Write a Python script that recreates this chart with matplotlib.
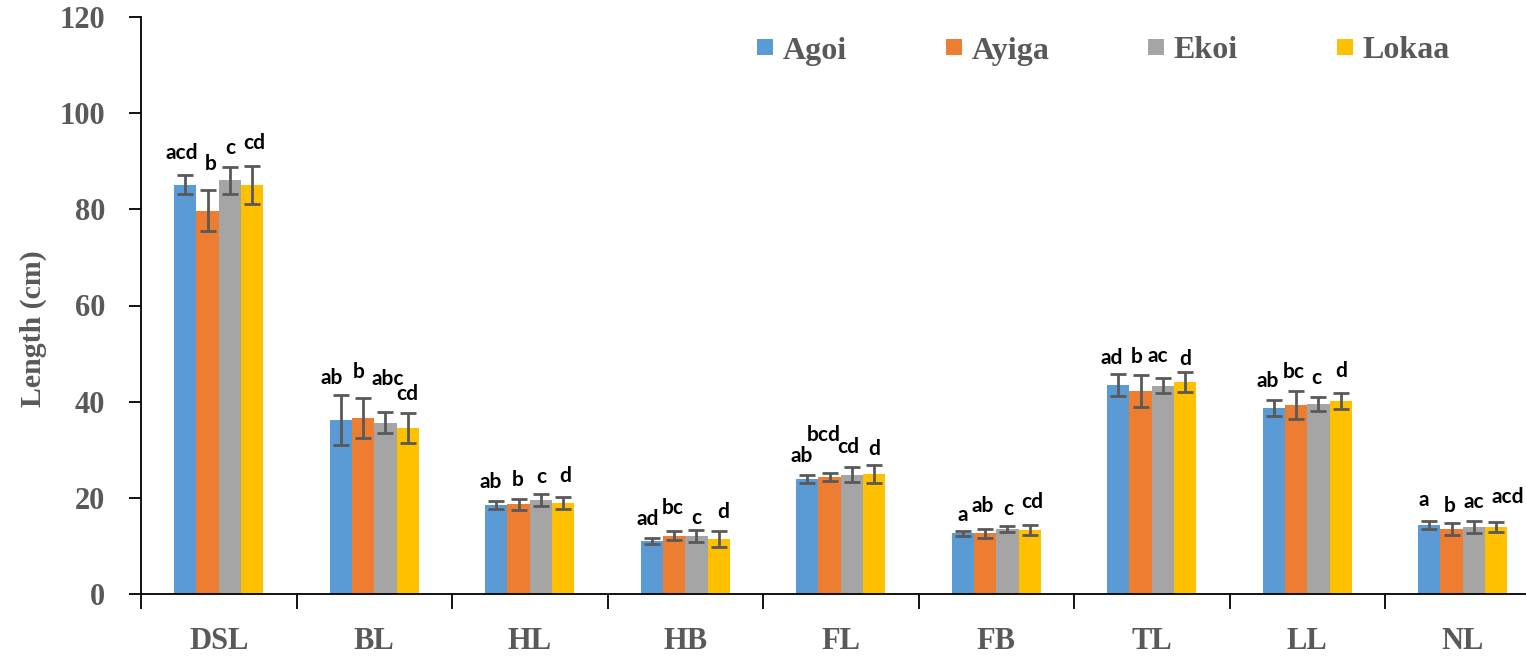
import matplotlib
matplotlib.use("Agg")
import matplotlib.pyplot as plt
import matplotlib.transforms as mtransforms
from matplotlib.patches import Patch
import numpy as np

# ---- data ----
traits = ["DSL", "BL", "HL", "HB", "FL", "FB", "TL", "LL", "NL"]
breeds = ["Agoi", "Ayiga", "Ekoi", "Lokaa"]

agoi_mean  = [85.1, 36.2, 18.5, 11.0, 23.9, 12.6, 43.5, 38.7, 14.3]
ayiga_mean = [79.7, 36.6, 18.7, 12.1, 24.3, 12.6, 42.2, 39.3, 13.5]
ekoi_mean  = [86.0, 35.6, 19.5, 12.1, 24.8, 13.5, 43.3, 39.5, 13.9]
lokaa_mean = [85.1, 34.5, 18.9, 11.4, 25.0, 13.3, 44.1, 40.1, 13.9]

agoi_sd  = [2.0, 5.2, 0.75, 0.6, 0.9, 0.6, 2.25, 1.7, 0.85]
ayiga_sd = [4.3, 4.1, 1.15, 0.9, 0.9, 0.85, 3.3, 2.9, 1.2]
ekoi_sd  = [2.9, 2.2, 1.2, 1.2, 1.6, 0.7, 1.6, 1.45, 1.3]
lokaa_sd = [4.0, 3.2, 1.3, 1.6, 1.9, 1.0, 2.0, 1.65, 1.05]

agoi_sig  = ["acd", "ab", "ab", "ad", "ab", "a", "ad", "ab", "a"]
ayiga_sig = ["b", "b", "b", "bc", "bcd", "ab", "b", "bc", "b"]
ekoi_sig  = ["c", "abc", "c", "c", "cd", "c", "ac", "c", "ac"]
lokaa_sig = ["cd", "cd", "d", "d", "d", "cd", "d", "d", "acd"]

means = [agoi_mean, ayiga_mean, ekoi_mean, lokaa_mean]
sds = [agoi_sd, ayiga_sd, ekoi_sd, lokaa_sd]
sigs = [agoi_sig, ayiga_sig, ekoi_sig, lokaa_sig]

# ---- layout of the significance letters (height in cm, nudge in px) ----
label_y = [
    [91.7, 44.9, 23.2, 15.5, 28.6, 16.4, 49.0, 44.4, 19.6],
    [89.4, 46.2, 23.7, 17.8, 33.1, 18.2, 49.2, 46.2, 18.4],
    [92.8, 44.7, 24.4, 15.9, 30.6, 17.6, 49.5, 44.9, 19.2],
    [93.8, 41.5, 24.5, 17.1, 30.1, 19.2, 48.8, 46.4, 20.2],
]
label_dx = [
    [-4, -9, -6, -4, -6, 0, -7, -6, -6],
    [3, -4, -1, -1, -6, -2, -4, -2, -2],
    [0, 2, 0, 0, -4, 1, -5, -2, 0],
    [2, 0, 2, 4, 0, 3, 0, 0, 12],
]

colors = ["#5B9BD5", "#ED7D31", "#A5A5A5", "#FFC000"]
gray_text = "#595959"
serif = ["Liberation Serif", "DejaVu Serif"]

W, H = 1526, 657
fig = plt.figure(figsize=(W / 100, H / 100), dpi=100)
ax = fig.add_axes([141 / W, 63 / H, 1399.5 / W, 577 / H])

n = len(traits)
centers = np.arange(n) + 0.5
bw = 0.1435

for j in range(4):
    xs = centers + (j - 1.5) * bw
    ax.bar(xs, means[j], width=bw, color=colors[j], linewidth=0, zorder=2)
    ax.errorbar(xs, means[j], yerr=sds[j], fmt="none", ecolor="#595959",
                elinewidth=2.0, capsize=5.5, capthick=2.0, zorder=3)
    for i in range(n):
        off = mtransforms.offset_copy(ax.transData, fig=fig,
                                      x=label_dx[j][i] * 0.72, y=0, units="points")
        ax.text(xs[i], label_y[j][i], sigs[j][i], transform=off,
                ha="center", va="center", fontsize=15, fontweight="bold",
                family=["Lato", "DejaVu Sans"], color="black", zorder=4)

ax.set_xlim(0, n)
ax.set_ylim(0, 120)
ax.set_yticks(np.arange(0, 121, 20))
ax.set_xticks(np.arange(0, n + 1))
ax.set_xticklabels([])
ax.set_xticks(centers, minor=True)
ax.set_xticklabels(traits, minor=True)

for side in ("top", "right"):
    ax.spines[side].set_visible(False)
for side in ("left", "bottom"):
    ax.spines[side].set_color("black")
    ax.spines[side].set_linewidth(1.3)

ax.tick_params(axis="y", direction="out", length=9, width=1.3, color="black",
               pad=17, labelsize=22, labelcolor=gray_text)
ax.tick_params(axis="x", which="major", direction="out", length=11, width=1.3,
               color="black")
ax.tick_params(axis="x", which="minor", length=0, pad=24, labelsize=22,
               labelcolor=gray_text)
for lab in ax.get_yticklabels() + ax.get_xticklabels(minor=True):
    lab.set_family(serif)
    lab.set_fontweight("bold")

ax.set_ylabel("Length (cm)", fontsize=21.5, fontweight="bold", family=serif,
              color=gray_text)
ax.yaxis.set_label_coords(47 / W, 0.5, transform=fig.transFigure)

handles = [Patch(facecolor=c, edgecolor="none", label=b) for c, b in zip(colors, breeds)]
leg = fig.legend(handles=handles, loc="center left",
                 bbox_to_anchor=(757 / W, 1 - 51 / H), bbox_transform=fig.transFigure,
                 ncol=4, frameon=False, borderpad=0, borderaxespad=0,
                 handlelength=0.5, handleheight=0.4, handletextpad=0.3,
                 columnspacing=3.1,
                 prop={"family": serif, "weight": "bold", "size": 23})
for t in leg.get_texts():
    t.set_color(gray_text)

fig.savefig("out.png", dpi=100)
